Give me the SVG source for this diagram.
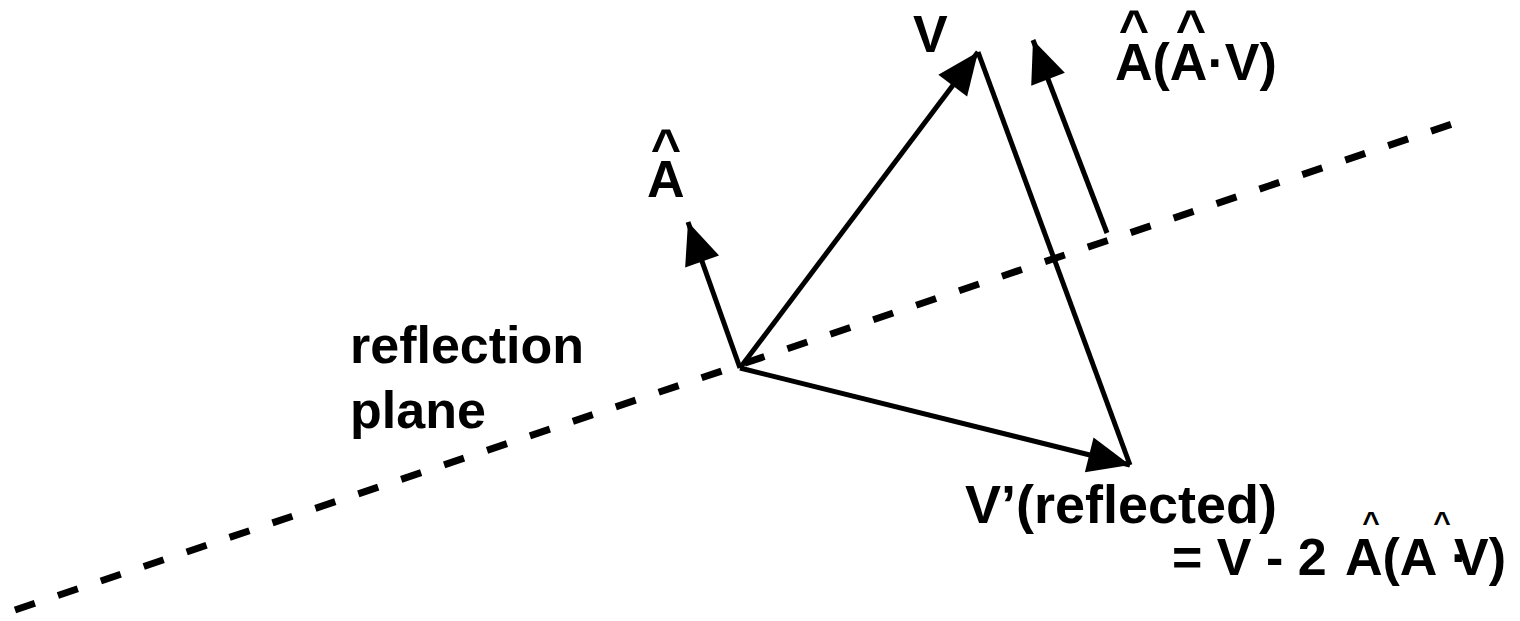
<svg xmlns="http://www.w3.org/2000/svg" width="1520" height="621" viewBox="0 0 1520 621">
  <defs>
    <style>
      text { font-family: "Liberation Sans", Arial, sans-serif; font-weight: bold; font-size: 52px; fill: #000; }
      .vec { stroke: #000; stroke-width: 5; fill: none; }
      .plane { stroke: #000; stroke-width: 7; fill: none; stroke-dasharray: 21 24.3; }
      .hat { text-anchor: middle; }
      .hat-s { font-size: 30px; text-anchor: middle; }
    </style>
    <marker id="arrow" markerUnits="userSpaceOnUse" markerWidth="50" markerHeight="40" viewBox="-46 -20 50 40" refX="0" refY="0" orient="auto">
      <path d="M0,0 L-42,-18 L-42,18 Z" fill="#000"/>
    </marker>
  </defs>
  <rect width="1520" height="621" fill="#fff"/>

  <g id="reflection-plane">
    <line class="plane" x1="15" y1="610" x2="1452" y2="124"/>
    <text x="350" y="363">reflection</text>
    <text x="350" y="428">plane</text>
  </g>

  <g id="connectors">
    <line class="vec" x1="740" y1="368" x2="688" y2="222" marker-end="url(#arrow)"/>
    <line class="vec" x1="740" y1="368" x2="978" y2="52" marker-end="url(#arrow)"/>
    <line class="vec" x1="740" y1="368" x2="1130" y2="465" marker-end="url(#arrow)"/>
    <line class="vec" x1="978" y1="52" x2="1130" y2="465"/>
    <line class="vec" x1="1107" y1="233" x2="1033" y2="40" marker-end="url(#arrow)"/>
  </g>

  <g id="label-A">
    <text class="hat" x="666" y="165">^</text>
    <text x="647" y="197">A</text>
  </g>
  <g id="label-V">
    <text x="913" y="52">V</text>
  </g>
  <g id="label-projection">
    <text class="hat" x="1134" y="46">^</text>
    <text class="hat" x="1191" y="46">^</text>
    <text x="1115" y="80">A(A·V)</text>
  </g>
  <g id="label-reflected">
    <text x="965" y="523" style="font-size:54px">V’(reflected)</text>
    <text x="1172" y="575">= V - 2</text>
    <text x="1345" y="575">A(A</text>
    <text x="1451" y="575">·</text>
    <text x="1454" y="575">V)</text>
    <text class="hat-s" x="1371" y="532">^</text>
    <text class="hat-s" x="1442" y="532">^</text>
  </g>
</svg>
